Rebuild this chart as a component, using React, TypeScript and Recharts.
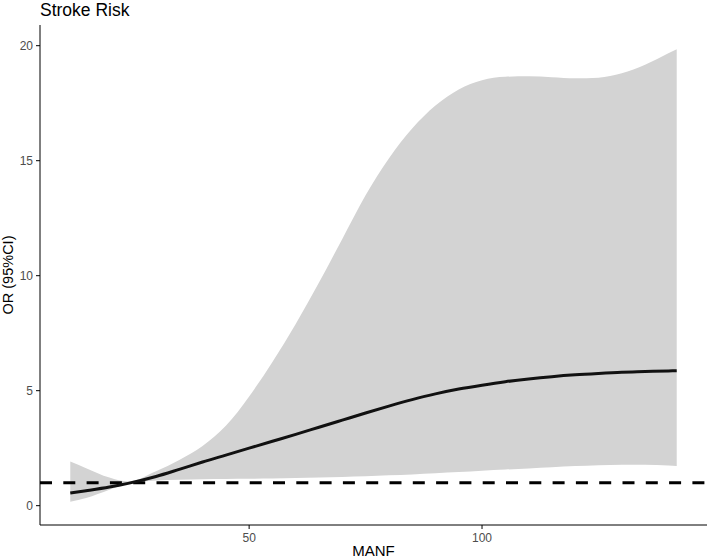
import React from 'react';
import { ComposedChart, Area, Line, XAxis, YAxis, ReferenceLine, Label } from 'recharts';

// MANF values along the fitted curve
const manf = [11.6, 15, 20, 24, 30, 35, 40, 45, 50, 55, 60, 65, 70, 75, 80, 85, 90, 95, 100, 105, 110, 115, 120, 125, 130, 135, 140, 141.8];
// odds ratio estimate
const or = [0.55, 0.65, 0.81, 0.97, 1.27, 1.58, 1.9, 2.2, 2.5, 2.8, 3.1, 3.41, 3.72, 4.03, 4.33, 4.61, 4.86, 5.07, 5.24, 5.39, 5.51, 5.61, 5.69, 5.75, 5.8, 5.83, 5.86, 5.87];
// 95% CI bounds
const lower = [0.17, 0.33, 0.69, 0.97, 1.1, 1.13, 1.15, 1.16, 1.17, 1.18, 1.2, 1.22, 1.25, 1.28, 1.32, 1.36, 1.41, 1.46, 1.52, 1.57, 1.62, 1.67, 1.72, 1.76, 1.78, 1.78, 1.75, 1.73];
const upper = [1.92, 1.63, 1.22, 1.05, 1.5, 1.99, 2.6, 3.47, 4.75, 6.25, 7.9, 9.7, 11.6, 13.5, 15.1, 16.4, 17.4, 18.1, 18.5, 18.65, 18.67, 18.63, 18.58, 18.61, 18.8, 19.17, 19.67, 19.85];

const xTicks = [50, 100];
const yTicks = [0, 5, 10, 15, 20];

const data = manf.map((x, i) => ({ x, or: or[i], band: [lower[i], upper[i]] }));

const font = '"Liberation Sans", Arial, Helvetica, sans-serif';
const tickStyle = { fill: '#4d4d4d', fontSize: 12, fontFamily: font };

export default function App() {
    return (
        <div style={{ position: 'absolute', left: 0, top: 0, width: 708, height: 560, background: '#fff' }}>
            <ComposedChart width={708} height={560} data={data} margin={{ top: 25, right: 1, left: 0, bottom: 0 }}>
                <text x={40} y={15.5} fontSize={17.5} fontFamily={font} fill="#000">Stroke Risk</text>
                <XAxis
                    dataKey="x"
                    type="number"
                    domain={[5.1, 148.3]}
                    ticks={xTicks}
                    allowDataOverflow
                    height={35}
                    stroke="#000"
                    tickSize={4}
                    tickMargin={4}
                    tick={tickStyle}
                >
                    <Label value="MANF" position="insideBottom" offset={4} fontSize={15} fontFamily={font} fill="#000" />
                </XAxis>
                <YAxis
                    type="number"
                    domain={[-0.84, 20.9]}
                    ticks={yTicks}
                    allowDataOverflow
                    width={40}
                    stroke="#000"
                    tickSize={4}
                    tickMargin={3}
                    tick={tickStyle}
                >
                    <Label
                        value="OR (95%CI)"
                        angle={-90}
                        position="insideLeft"
                        offset={8}
                        fontSize={14.5}
                        fontFamily={font}
                        fill="#000"
                        style={{ textAnchor: 'middle' }}
                    />
                </YAxis>
                <Area
                    dataKey="band"
                    type="monotone"
                    fill="#d3d3d3"
                    fillOpacity={1}
                    stroke="none"
                    isAnimationActive={false}
                />
                <ReferenceLine y={1} stroke="#000" strokeWidth={3} strokeDasharray="12 11.3" />
                <Line
                    dataKey="or"
                    type="monotone"
                    stroke="#111"
                    strokeWidth={3}
                    dot={false}
                    isAnimationActive={false}
                />
            </ComposedChart>
        </div>
    );
}
